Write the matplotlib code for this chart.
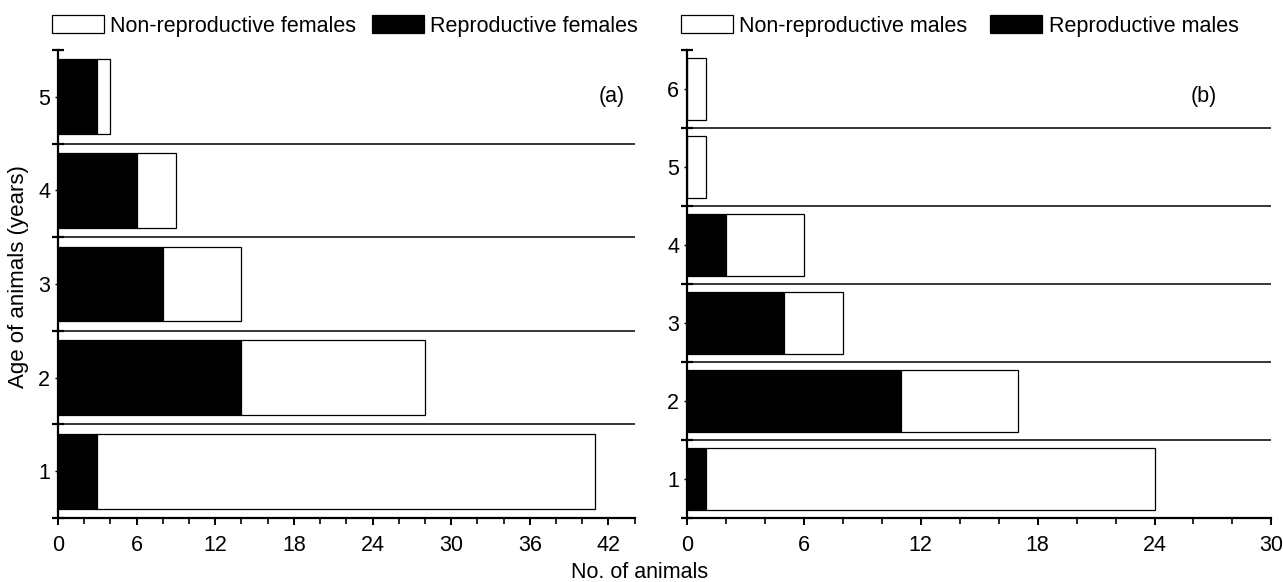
import matplotlib
matplotlib.use("Agg")
import matplotlib.pyplot as plt
from matplotlib.patches import Patch
import numpy as np

plt.rcParams['font.family'] = ['Liberation Sans', 'DejaVu Sans']

# Data
female_ages = [1, 2, 3, 4, 5]
female_repro = [3, 14, 8, 6, 3]
female_total = [41, 28, 14, 9, 4]

male_ages = [1, 2, 3, 4, 5, 6]
male_repro = [1, 11, 5, 2, 0, 0]
male_total = [24, 17, 8, 6, 1, 1]

female_xticks = [0, 6, 12, 18, 24, 30, 36, 42]
male_xticks = [0, 6, 12, 18, 24, 30]

W, H = 1283, 582
fig = plt.figure(figsize=(W / 100, H / 100), dpi=100)

FS = 15.5

def panel(rect, ages, repro, total, xmax, xticks, label, legend_labels, colsp):
    ax = fig.add_axes(rect)
    ages = np.array(ages)
    repro = np.array(repro)
    nonrepro = np.array(total) - repro
    ax.barh(ages, repro, height=0.8, color='black', edgecolor='black', linewidth=0.9)
    ax.barh(ages, nonrepro, left=repro, height=0.8, color='white', edgecolor='black', linewidth=0.9)
    n = len(ages)
    for k in range(1, n):
        ax.axhline(k + 0.5, color='black', linewidth=1.1, zorder=0.5)
    ax.set_ylim(0.5, n + 0.5)
    ax.set_xlim(0, xmax)
    ax.set_yticks(ages)
    ax.set_yticks(np.arange(0.5, n + 1, 1), minor=True)
    ax.set_xticks(xticks)
    ax.set_xticks(np.arange(0, xmax + 0.1, 2), minor=True)
    for s in ['top', 'right']:
        ax.spines[s].set_visible(False)
    for s in ['left', 'bottom']:
        ax.spines[s].set_linewidth(1.6)
    ax.tick_params(axis='y', which='major', direction='out', length=2, width=1, labelsize=FS, pad=3.5)
    ax.tick_params(axis='y', which='minor', direction='inout', length=8, width=1.6)
    ax.tick_params(axis='x', which='major', direction='out', length=5, width=1.4, labelsize=FS, pad=7)
    ax.tick_params(axis='x', which='minor', direction='out', length=4, width=1.2)
    ax.text(label[1], label[2], label[0], transform=ax.transAxes, fontsize=FS,
            ha='center', va='center')
    handles = [Patch(facecolor='white', edgecolor='black', linewidth=0.9, label=legend_labels[0]),
               Patch(facecolor='black', edgecolor='black', linewidth=0.9, label=legend_labels[1])]
    ax.legend(handles=handles, ncol=2, loc='center left', bbox_to_anchor=(-0.01, 1.051),
              frameon=False, fontsize=FS, handlelength=2.4, handleheight=0.9,
              handletextpad=0.3, columnspacing=colsp, borderaxespad=0, borderpad=0)
    return ax

axL = panel([58 / W, 64 / H, 576.7 / W, 468 / H], female_ages, female_repro, female_total,
            44, female_xticks, ('(a)', 0.96, 0.90),
            ['Non-reproductive females', 'Reproductive females'], 0.72)
axR = panel([687 / W, 64 / H, 584.4 / W, 468 / H], male_ages, male_repro, male_total,
            30, male_xticks, ('(b)', 0.885, 0.90),
            ['Non-reproductive males', 'Reproductive males'], 1.07)

fig.text(19 / W, 1 - 277 / H, 'Age of animals (years)', rotation=90, fontsize=FS + 0.5,
         ha='center', va='center')
fig.text(640 / W, 1 - 572 / H, 'No. of animals', fontsize=FS, ha='center', va='center')

fig.savefig('out.png', dpi=100)
